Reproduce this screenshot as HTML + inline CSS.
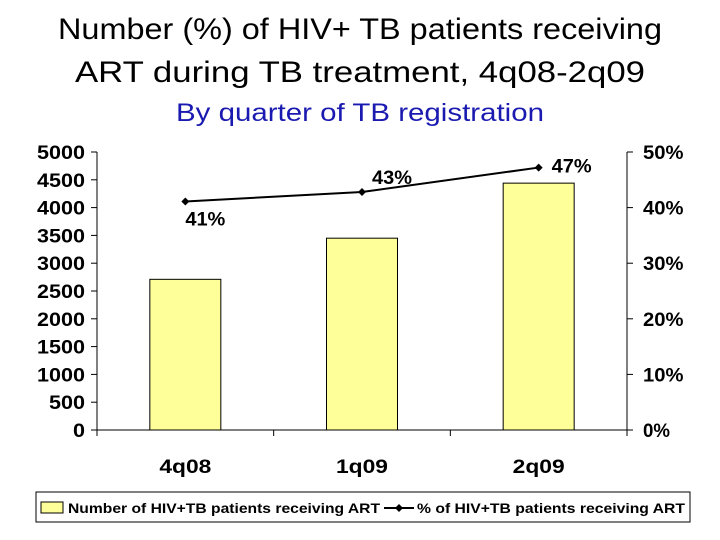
<!DOCTYPE html>
<html><head><meta charset="utf-8"><style>
html,body{margin:0;padding:0;background:#fff;width:720px;height:540px;overflow:hidden}
svg text{font-family:"Liberation Sans",sans-serif}
.t{font-size:30px;fill:#000}
.tick{font-size:19px;font-weight:bold;fill:#000}
</style></head><body>
<svg id="chart" width="720" height="540">
<text class="t" x="360" y="39" text-anchor="middle" textLength="604" lengthAdjust="spacingAndGlyphs">Number (%) of HIV+ TB patients receiving</text>
<text class="t" x="360" y="82" text-anchor="middle" textLength="570" lengthAdjust="spacingAndGlyphs">ART during TB treatment, 4q08-2q09</text>
<text x="360" y="121" text-anchor="middle" font-size="25" fill="#1a1ab0" textLength="368" lengthAdjust="spacingAndGlyphs">By quarter of TB registration</text>
<g id="plot"></g>
<g>
<rect x="36" y="492" width="654" height="30" fill="#fff" stroke="#000" stroke-width="1"/>
<rect x="41" y="502" width="22" height="11" fill="#ffff99" stroke="#000" stroke-width="1"/>
<text x="68" y="513" font-size="14" font-weight="bold" textLength="312" lengthAdjust="spacingAndGlyphs">Number of HIV+TB patients receiving ART</text>
<line x1="384" y1="508" x2="414" y2="508" stroke="#000" stroke-width="2"/>
<path d="M399 504 L403 508 L399 512 L395 508 Z" fill="#000"/>
<text x="417" y="513" font-size="14" font-weight="bold" textLength="268" lengthAdjust="spacingAndGlyphs">% of HIV+TB patients receiving ART</text>
</g>
</svg>
<script>
const categories = ["4q08","1q09","2q09"];
const counts = [2710, 3450, 4440];
const percents = [41.1, 42.8, 47.2];
const leftTicks = [0,500,1000,1500,2000,2500,3000,3500,4000,4500,5000];
const rightTicks = [0,10,20,30,40,50];
const pctLabels = ["41%","43%","47%"];

const NS="http://www.w3.org/2000/svg";
const g=document.getElementById('plot');
const L=97,R=627,T=152,B=430;
const yL=v=>B-(v/5000)*(B-T);
const yR=v=>B-(v/50)*(B-T);
const bw=(R-L)/categories.length;
const xC=i=>L+bw*(i+0.5);
function mk(tag,attrs,text){const e=document.createElementNS(NS,tag);for(const k in attrs)e.setAttribute(k,attrs[k]);if(text!==undefined)e.textContent=text;g.appendChild(e);return e;}

counts.forEach((v,i)=>{
  const r=mk('rect',{x:xC(i)-35.5,y:yL(v),width:71,height:B-yL(v),fill:'#ffff99',stroke:'#000','stroke-width':1});
  
  
});
let a=mk('line',{x1:L,y1:T,x2:L,y2:B,stroke:'#000','stroke-width':1});


a=mk('line',{x1:R,y1:T,x2:R,y2:B,stroke:'#000','stroke-width':1});


a=mk('line',{x1:L,y1:B,x2:R,y2:B,stroke:'#000','stroke-width':1});


leftTicks.forEach(v=>{
  mk('line',{x1:L-6,y1:yL(v),x2:L,y2:yL(v),stroke:'#000'});
  const t=mk('text',{x:L-12,y:yL(v)+7,'text-anchor':'end',class:'tick',textLength:(String(v).length*12),lengthAdjust:'spacingAndGlyphs'},String(v));
  
  
});
rightTicks.forEach(v=>{
  mk('line',{x1:R,y1:yR(v),x2:R+6,y2:yR(v),stroke:'#000'});
  const s=v+'%';
  const t=mk('text',{x:R+16,y:yR(v)+7,class:'tick',textLength:(s.length*13.5),lengthAdjust:'spacingAndGlyphs'},s);
  
  
});
for(let i=0;i<=categories.length;i++){mk('line',{x1:L+bw*i,y1:B,x2:L+bw*i,y2:B+6,stroke:'#000'});}
categories.forEach((c,i)=>{
  const t=mk('text',{x:xC(i),y:B+43,'text-anchor':'middle',class:'tick',textLength:c.length*13,lengthAdjust:'spacingAndGlyphs'},c);
  
  
});
const pl=mk('polyline',{points:percents.map((p,i)=>xC(i)+','+yR(p)).join(' '),fill:'none',stroke:'#000','stroke-width':2});


const offs=[[20,24],[30,-8],[33,5]];
percents.forEach((p,i)=>{
  const x=xC(i),y=yR(p);
  const m=mk('path',{d:`M${x} ${y-4} L${x+4} ${y} L${x} ${y+4} L${x-4} ${y} Z`,fill:'#000'});
  
  
  const t=mk('text',{x:x+offs[i][0],y:y+offs[i][1],'text-anchor':'middle',class:'tick',textLength:40,lengthAdjust:'spacingAndGlyphs'},pctLabels[i]);
  
  
});
</script>
</body></html>
